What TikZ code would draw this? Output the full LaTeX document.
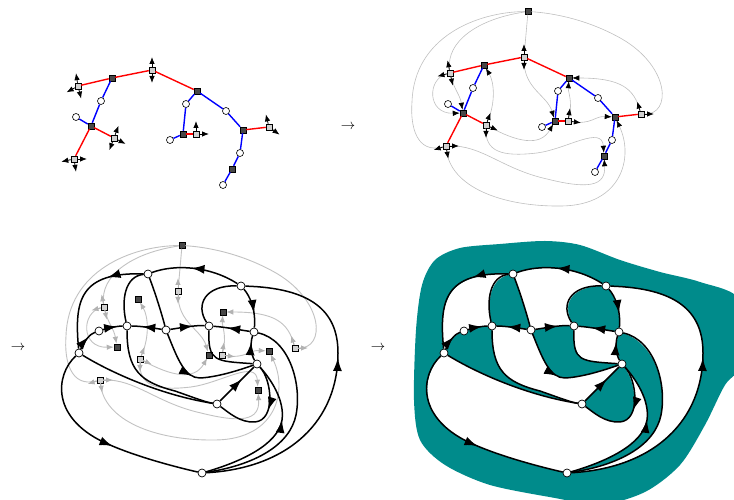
\documentclass[tikz,border=0pt]{standalone}
\usetikzlibrary{arrows.meta, decorations.markings, backgrounds}
\definecolor{facecol}{RGB}{0,139,139}

% squares of the tree (light and dark), used in the first three panels
\newcommand{\treesquares}{%
  \node[lightsq] (q1) at (152,430) {};
  \node[lightsq] (q2) at (78,414) {};
  \node[lightsq] (q3) at (114,362) {};
  \node[lightsq] (q4) at (74,341) {};
  \node[lightsq] (q5) at (196,366) {};
  \node[lightsq] (q6) at (269,373) {};
  \node[darksq] (s1) at (112,422) {};
  \node[darksq] (s2) at (91,374) {};
  \node[darksq] (s3) at (197,409) {};
  \node[darksq] (s4) at (183,366) {};
  \node[darksq] (s5) at (243,370) {};
  \node[darksq] (s6) at (232,331) {};
}

% white dots and red/blue links of the tree
\newcommand{\treelinks}{%
  \node[treedot] (c1) at (101,399) {};
  \node[treedot] (c2) at (76,383) {};
  \node[treedot] (c3) at (186,396) {};
  \node[treedot] (c4) at (170,360) {};
  \node[treedot] (c5) at (226,389) {};
  \node[treedot] (c6) at (240,347) {};
  \node[treedot] (c7) at (223,315) {};
  \draw[redlink] (q2) -- (s1) -- (q1) -- (s3);
  \draw[redlink] (q4) -- (s2) -- (q3);
  \draw[redlink] (s4) -- (q5);
  \draw[redlink] (s5) -- (q6);
  \draw[bluelink] (s1) -- (c1) -- (s2) -- (c2);
  \draw[bluelink] (c4) -- (s4) -- (c3) -- (s3) -- (c5) -- (s5) -- (c6) -- (s6) -- (c7);
}

% half-edges closed up into curves (panels 2 and 3)
\newcommand{\halfedges}{%
  \node[darksq] (t) at (156,475.5) {};
  \draw[halfedge] (q2) .. controls (74,445) and (105,468) .. (t);
  \draw[tosq] (q2) .. controls (55,408) and (55,373) .. (s2);
  \draw[tosq] (q2) .. controls (82,398) and (88,392) .. (s2);
  \draw[tosq] (q3) .. controls (124,385) and (122,405) .. (s1);
  \draw[tosq] (q3) .. controls (145,345) and (168,340) .. (s4);
  \draw[tosq] (q3) .. controls (113,335) and (130,330) .. (165,334) .. controls (195,338) and (230,362) .. (s6);
  \draw[halfedge] (q4) .. controls (45,333) and (38,360) .. (40,385) .. controls (42,450) and (105,475) .. (t);
  \draw[tosq] (q4) .. controls (110,342) and (130,318) .. (175,308) .. controls (215,298) and (234,300) .. (s6);
  \draw[tosq] (q4) .. controls (78,300) and (130,280) .. (190,281) .. controls (250,282) and (262,330) .. (s5);
  \draw[halfedge] (q1) -- (t);
  \draw[tosq] (q1) .. controls (152,398) and (175,392) .. (s4);
  \draw[tosq] (q5) .. controls (201,385) and (196,395) .. (s3);
  \draw[tosq] (q5) .. controls (220,362) and (222,371) .. (s5);
  \draw[tosq] (q6) .. controls (262,398) and (250,409) .. (s3);
  \draw[halfedge] (q6) .. controls (300,372) and (298,420) .. (250,448) .. controls (215,468) and (180,474) .. (t);
  \foreach \sq/\ang in {q1/90, q1/270, q2/101, q2/195, q2/283, q3/70, q3/335, q3/270,
                        q4/198, q4/0, q4/280, q5/81, q5/352, q6/107, q6/0}
    \draw[stub] (\sq) -- ++(\ang:13);
}

% the black graph of the last two panels
\newcommand{\walkgraph}{%
  \node[walkdot] (A) at (148,226) {};
  \node[walkdot] (B) at (241,214) {};
  \node[walkdot] (C) at (99,169) {};
  \node[walkdot] (D) at (127,174) {};
  \node[walkdot] (E) at (166,170) {};
  \node[walkdot] (F) at (209,174) {};
  \node[walkdot] (G) at (254,168) {};
  \node[walkdot] (H) at (79,147) {};
  \node[walkdot] (I) at (257,136) {};
  \node[walkdot] (J) at (217,96) {};
  \node[walkdot] (K) at (202,27) {};
  % directed edges
  \draw[walk, flow=0.55] (B) .. controls (210,234) and (175,236) .. (A);
  \draw[walk, flow=0.3] (A) .. controls (80,228) and (74,200) .. (H);
  \draw[walk, flow=0.59] (K) .. controls (290,32) and (338,80) .. (338,147) .. controls (338,190) and (310,212) .. (B);
  \draw[walk, flow=0.57] (H) .. controls (55,125) and (50,80) .. (110,55) .. controls (140,42) and (180,32) .. (K);
  \draw[walk, flow=0.64] (H) .. controls (85,160) and (90,166) .. (C);
  \draw[walk, flow=0.72] (C) .. controls (108,172) and (118,174) .. (D);
  \draw[walk, flow=0.64] (E) .. controls (153,172) and (140,174) .. (D);
  \draw[walk, flow=0.66] (E) .. controls (180,172) and (195,175) .. (F);
  \draw[walk, flow=0.62] (G) .. controls (240,170) and (225,173) .. (F);
  \draw[walk, flow=0.64] (B) .. controls (250,204) and (256,190) .. (G);
  \draw[walk, flow=0.44] (E) .. controls (178,140) and (185,122) .. (200,122) .. controls (220,123) and (245,132) .. (I);
  \draw[walk, flow=0.64] (J) -- (I);
  \draw[walk, flow=0.44] (I) .. controls (272,120) and (276,80) .. (255,78) .. controls (240,77) and (228,88) .. (J);
  \draw[walk, flow=0.75] (I) .. controls (251,145) and (250,157) .. (G);
  \draw[walk, flow=0.62] (K) .. controls (240,38) and (278,55) .. (282,80) .. controls (285,100) and (270,122) .. (I);
  % edges without arrows
  \draw[walk] (A) .. controls (125,224) and (121,200) .. (D);
  \draw[walk] (A) .. controls (156,205) and (162,185) .. (E);
  \draw[walk] (B) .. controls (205,215) and (195,195) .. (F);
  \draw[walk] (F) .. controls (208,138) and (215,139) .. (I);
  \draw[walk] (G) .. controls (290,160) and (302,115) .. (296,85) .. controls (290,55) and (255,35) .. (K);
  \draw[walk] (H) .. controls (110,128) and (160,105) .. (J);
  \draw[walk] (D) .. controls (127,130) and (140,118) .. (175,109) .. controls (195,102) and (205,98) .. (J);
}

\begin{document}
\begin{tikzpicture}[x=1pt, y=1pt,
  lightsq/.style={rectangle, draw, fill=black!18, minimum size=6pt, inner sep=0pt, line width=0.5pt},
  darksq/.style={lightsq, fill=black!72},
  treedot/.style={circle, draw, fill=white, minimum size=7pt, inner sep=0pt, line width=0.6pt},
  walkdot/.style={treedot, minimum size=8pt, line width=0.7pt},
  redlink/.style={red, line width=1.4pt},
  bluelink/.style={blue, line width=1.4pt},
  stub/.style={line width=0.8pt, -{Latex[length=7pt, width=5.5pt]}},
  halfedge/.style={draw=black!25, line width=0.6pt},
  tosq/.style={halfedge, -{Latex[length=7pt, width=5.5pt, color=black]}},
  walk/.style={line width=1.5pt},
  flow/.style={postaction={decorate, decoration={markings,
      mark=at position #1 with {\arrow{Latex[length=13pt, width=9pt]}}}}}]
\useasboundingbox (0,0) rectangle (734,500);

% arrows between the panels
\node[font=\Large] (arr12) at (348,373) {$\rightarrow$};
\node[font=\Large] (arr23) at (18,152) {$\rightarrow$};
\node[font=\Large] (arr34) at (378,152) {$\rightarrow$};

% panel 1: tree with its half-edges
\begin{scope}[name prefix=a-]
  \treesquares
  \treelinks
  \foreach \sq/\ang in {q1/90, q1/270, q2/99, q2/209, q2/284, q3/70, q3/333, q3/249,
                        q4/192, q4/0, q4/279, q5/90, q5/0, q6/104, q6/324}
    \draw[stub] (\sq) -- ++(\ang:13);
\end{scope}

% panel 2: half-edges joined
\begin{scope}[shift={(372,13)}, name prefix=b-]
  \treesquares
  \halfedges
  \treelinks
\end{scope}

% panel 3: the map in grey under the black graph
\begin{scope}[shift={(26,-221)}, name prefix=c-,
    halfedge/.style={draw=black!24, line width=0.9pt},
    tosq/.style={halfedge, -{Latex[length=7pt, width=5.5pt, color=black!30]}},
    stub/.style={black!30, line width=0.9pt, -{Latex[length=7pt, width=5.5pt]}}]
  \treesquares
  \halfedges
\end{scope}
\begin{scope}[name prefix=w-]
  \walkgraph
\end{scope}

% panel 4: faces coloured
\begin{scope}[on background layer]
  \clip (0,0) rectangle (734,500);
  \fill[facecol] plot[smooth cycle] coordinates {(414,100) (416,170) (422,215) (435,240)
    (460,252) (500,256) (545,259) (580,255) (620,240) (660,228) (700,218) (740,200)
    (745,140) (725,115) (705,75) (680,35) (645,8) (600,-5) (555,2) (490,15) (445,35) (420,60)};
\end{scope}
\begin{scope}[shift={(365,0)}, name prefix=f-]
  \walkgraph
  \begin{scope}[on background layer]
    \fill[white, even odd rule]
      (A.center) .. controls (175,236) and (210,234) .. (B.center) .. controls (310,212) and (338,190) .. (338,147)
        .. controls (338,80) and (290,32) .. (K.center) .. controls (180,32) and (140,42) .. (110,55)
        .. controls (50,80) and (55,125) .. (H.center) .. controls (74,200) and (80,228) .. (A.center) -- cycle
      (H.center) .. controls (85,160) and (90,166) .. (C.center) .. controls (108,172) and (118,174) .. (D.center)
        .. controls (127,130) and (140,118) .. (175,109) .. controls (195,102) and (205,98) .. (J.center)
        .. controls (160,105) and (110,128) .. (H.center) -- cycle
      (A.center) .. controls (125,224) and (121,200) .. (D.center) .. controls (140,174) and (153,172) .. (E.center)
        .. controls (162,185) and (156,205) .. (A.center) -- cycle
      (E.center) .. controls (180,172) and (195,175) .. (F.center) .. controls (208,138) and (215,139) .. (I.center)
        .. controls (245,132) and (220,123) .. (200,122) .. controls (185,122) and (178,140) .. (E.center) -- cycle
      (B.center) .. controls (205,215) and (195,195) .. (F.center) .. controls (225,173) and (240,170) .. (G.center)
        .. controls (256,190) and (250,204) .. (B.center) -- cycle
      (G.center) .. controls (250,157) and (251,145) .. (I.center) .. controls (270,122) and (285,100) .. (282,80)
        .. controls (278,55) and (240,38) .. (K.center) .. controls (255,35) and (290,55) .. (296,85)
        .. controls (302,115) and (290,160) .. (G.center) -- cycle
      (J.center) -- (I.center) .. controls (272,120) and (276,80) .. (255,78)
        .. controls (240,77) and (228,88) .. (J.center) -- cycle;
  \end{scope}
\end{scope}
\end{tikzpicture}
\end{document}
